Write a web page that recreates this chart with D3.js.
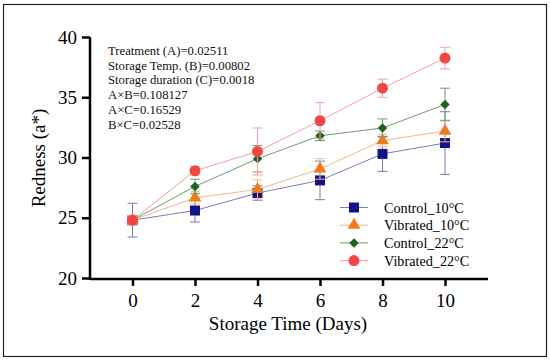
<!DOCTYPE html>
<html>
<head>
<meta charset="utf-8">
<script src="https://cdn.jsdelivr.net/npm/d3@7"></script>
<style>
  body { margin: 0; background: #fff; }
  svg text { font-family: "Liberation Serif", "DejaVu Serif", serif; }
</style>
</head>
<body>
<div id="chart"></div>
<script>
// storage days on the x axis
var days = [0, 2, 4, 6, 8, 10];
var yTicks = [20, 25, 30, 35, 40];

// mean redness (a*) per series
var control10 = [24.8, 25.6, 27.05, 28.1, 30.3, 31.2];
var vibrated10 = [24.8, 26.65, 27.35, 29.05, 31.4, 32.2];
var control22 = [24.8, 27.6, 29.9, 31.8, 32.45, 34.4];
var vibrated22 = [24.8, 28.9, 30.5, 33.05, 35.75, 38.25];

// error (+/-) per series
var control10Err = [1.4, 0.95, 0.6, 1.6, 1.45, 2.6];
var vibrated10Err = [0.4, 0.5, 0.8, 0.85, 0.5, 0.9];
var control22Err = [0.3, 0.6, 1.1, 0.4, 0.75, 1.35];
var vibrated22Err = [0.3, 0.35, 1.95, 1.5, 0.75, 0.9];

var seriesNames = ["Control_10°C", "Vibrated_10°C", "Control_22°C", "Vibrated_22°C"];

var statLines = [
  "Treatment (A)=0.02511",
  "Storage Temp. (B)=0.00802",
  "Storage duration (C)=0.0018",
  "A×B=0.108127",
  "A×C=0.16529",
  "B×C=0.02528"
];

var series = [
  {name: seriesNames[0], values: control10, err: control10Err, color: "#14148a", line: "#7b7bb8", shape: d3.symbolSquare, size: 100, rot: 0},
  {name: seriesNames[1], values: vibrated10, err: vibrated10Err, color: "#f07a1c", line: "#f3b687", shape: d3.symbolTriangle, size: 70, rot: 0},
  {name: seriesNames[2], values: control22, err: control22Err, color: "#1b661b", line: "#6f9c6f", shape: d3.symbolSquare, size: 45, rot: 45},
  {name: seriesNames[3], values: vibrated22, err: vibrated22Err, color: "#f04646", line: "#f3a0a0", shape: d3.symbolCircle, size: 95, rot: 0}
];

var width = 550, height = 363;

var svg = d3.select("#chart").append("svg")
  .attr("width", width)
  .attr("height", height);

// outer frame
svg.append("rect")
  .attr("x", 3.5).attr("y", 4.5)
  .attr("width", 543).attr("height", 352)
  .attr("fill", "none")
  .attr("stroke", "#222")
  .attr("stroke-width", 1.2);

var x = d3.scaleLinear().domain([0, 10]).range([132.5, 445]);
var y = d3.scaleLinear().domain([20, 40]).range([278, 37]);

// x axis
var xAxis = svg.append("g")
  .attr("transform", "translate(0,279)")
  .call(d3.axisBottom(x).tickValues(days).tickSize(7).tickPadding(8).tickSizeOuter(0));
xAxis.select(".domain").attr("d", "M90,0H488").attr("stroke", "#000").attr("stroke-width", 2.5);
xAxis.selectAll(".tick line").attr("stroke-width", 2.5);
xAxis.selectAll(".tick text").attr("font-size", 19);

// y axis
var yAxis = svg.append("g")
  .attr("transform", "translate(90,0)")
  .call(d3.axisLeft(y).tickValues(yTicks).tickSize(8).tickPadding(5).tickSizeOuter(0));
yAxis.select(".domain").attr("d", "M0,37V280").attr("stroke", "#000").attr("stroke-width", 2.5);
yAxis.selectAll(".tick line").attr("stroke-width", 2.5);
yAxis.selectAll(".tick text").attr("font-size", 19);

// axis titles
svg.append("text")
  .attr("x", 288).attr("y", 330)
  .attr("text-anchor", "middle")
  .attr("font-size", 19)
  .text("Storage Time (Days)");

svg.append("text")
  .attr("transform", "translate(45,158) rotate(-90)")
  .attr("text-anchor", "middle")
  .attr("font-size", 19)
  .text("Redness (a*)");

// lines + error bars + markers
var line = d3.line()
  .x(function(d, i) { return x(days[i]); })
  .y(function(d) { return y(d); });

series.forEach(function(s) {
  var g = svg.append("g");
  g.append("path")
    .attr("d", line(s.values))
    .attr("fill", "none")
    .attr("stroke", s.line)
    .attr("stroke-width", 1);

  s.values.forEach(function(v, i) {
    var cx = x(days[i]);
    var e = s.err[i];
    g.append("line")
      .attr("x1", cx).attr("x2", cx)
      .attr("y1", y(v - e)).attr("y2", y(v + e))
      .attr("stroke", s.line).attr("stroke-width", 1);
    [v - e, v + e].forEach(function(t) {
      g.append("line")
        .attr("x1", cx - 5).attr("x2", cx + 5)
        .attr("y1", y(t)).attr("y2", y(t))
        .attr("stroke", s.line).attr("stroke-width", 1);
    });
  });

  g.selectAll("path.pt")
    .data(s.values)
    .enter().append("path")
    .attr("class", "pt")
    .attr("transform", function(d, i) { return "translate(" + x(days[i]) + "," + y(d) + ") rotate(" + s.rot + ")"; })
    .attr("d", d3.symbol().type(s.shape).size(s.size))
    .attr("fill", s.color);
});

// stats annotation
svg.append("g")
  .selectAll("text")
  .data(statLines)
  .enter().append("text")
  .attr("x", 108)
  .attr("y", function(d, i) { return 55 + i * 14.7; })
  .attr("font-size", 12.7)
  .attr("fill", "#111")
  .text(function(d) { return d; });

// legend
var legend = svg.append("g");
series.forEach(function(s, i) {
  var ly = 207.5 + i * 17.7;
  legend.append("line")
    .attr("x1", 340).attr("x2", 368)
    .attr("y1", ly).attr("y2", ly)
    .attr("stroke", s.line).attr("stroke-width", 1);
  legend.append("path")
    .attr("transform", "translate(354," + ly + ") rotate(" + s.rot + ")")
    .attr("d", d3.symbol().type(s.shape).size(s.size))
    .attr("fill", s.color);
  legend.append("text")
    .attr("x", 384).attr("y", ly + 5)
    .attr("font-size", 14.2)
    .text(s.name);
});
</script>
</body>
</html>
